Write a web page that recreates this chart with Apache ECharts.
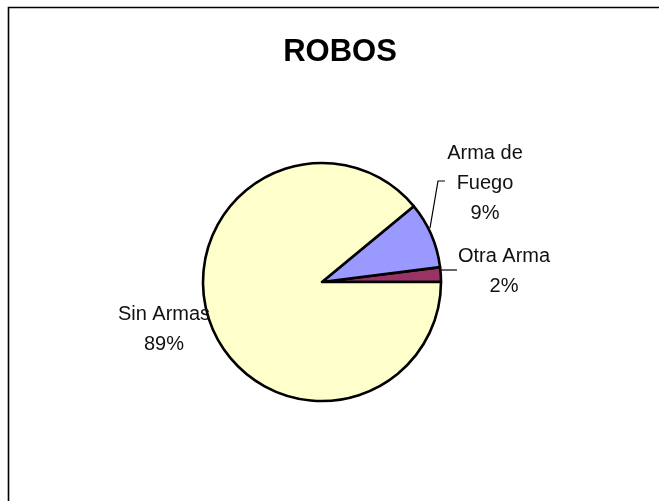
<!DOCTYPE html>
<html>
<head>
<meta charset="utf-8">
<script src="https://cdn.jsdelivr.net/npm/echarts@6/dist/echarts.min.js"></script>
<style>
html,body{margin:0;padding:0;background:#fff;}
#chart{width:659px;height:501px;}
</style>
</head>
<body>
<div id="chart"></div>
<script>
var categories = ['Otra Arma', 'Arma de Fuego', 'Sin Armas'];
var labelTexts = ['Otra Arma', 'Arma de\nFuego', 'Sin Armas'];
var values = [2, 9, 89];
var colors = ['#993366', '#9999FF', '#FFFFCC'];

var labelPos = {
  'Otra Arma': {x: 504, y: 271, line: [[440, 270], [448, 270], [457, 270]]},
  'Arma de Fuego': {x: 485, y: 183, line: [[430, 228], [438, 181], [445, 181]]},
  'Sin Armas': {x: 164, y: 329, line: null}
};

var chart = echarts.init(document.getElementById('chart'));
var data = categories.map(function (c, i) {
  return {
    name: c,
    value: values[i],
    itemStyle: {color: colors[i]},
    labelLine: {show: i !== 2}
  };
});

chart.setOption({
  animation: false,
  backgroundColor: '#fff',
  title: {
    text: 'ROBOS',
    left: 340,
    top: 37,
    textAlign: 'center',
    padding: 0,
    textStyle: {fontFamily: 'Liberation Sans, Arial, sans-serif', fontWeight: 'bold', fontSize: 31, color: '#000'}
  },
  graphic: [{
    type: 'rect',
    shape: {x: 8.5, y: 7.5, width: 800, height: 700},
    style: {fill: 'none', stroke: '#000', lineWidth: 1.6},
    silent: true
  }],
  series: [{
    type: 'pie',
    center: [322, 282],
    radius: 119,
    startAngle: 0,
    clockwise: false,
    data: data,
    itemStyle: {borderColor: '#000', borderWidth: 2.6},
    label: {
      show: true,
      position: 'outside',
      fontFamily: 'Liberation Sans, Arial, sans-serif',
      fontSize: 20,
      lineHeight: 30,
      color: '#111',
      align: 'center',
      formatter: function (p) {
        return labelTexts[p.dataIndex] + '\n' + Math.round(p.percent) + '%';
      }
    },
    labelLine: {show: true, lineStyle: {color: '#000', width: 1.2}},
    labelLayout: function (p) {
      var pos = labelPos[categories[p.dataIndex]];
      var r = {x: pos.x, y: pos.y, align: 'center', verticalAlign: 'middle'};
      if (pos.line) r.labelLinePoints = pos.line;
      return r;
    },
    emphasis: {disabled: true}
  }]
});
</script>
</body>
</html>
